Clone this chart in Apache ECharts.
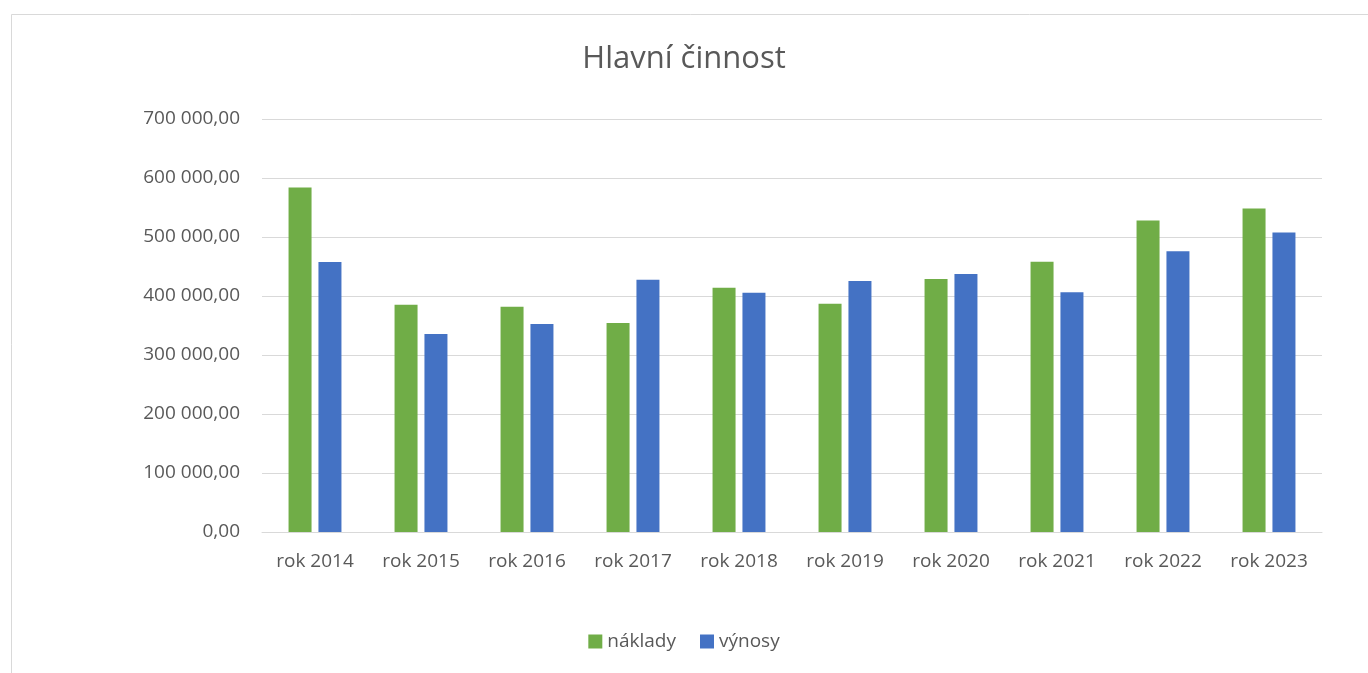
<!DOCTYPE html>
<html><head><meta charset="utf-8">
<script src="https://cdn.jsdelivr.net/npm/echarts@6/dist/echarts.min.js"></script>
<style>html,body{margin:0;padding:0;background:#fff}#c{width:1368px;height:673px}</style>
</head><body><div id="c"></div>
<script>
var categories = ['rok 2014','rok 2015','rok 2016','rok 2017','rok 2018','rok 2019','rok 2020','rok 2021','rok 2022','rok 2023'];
var naklady = [583700, 385200, 381800, 354100, 414100, 386900, 428800, 458200, 527900, 548300];
var vynosy = [457500, 335400, 352400, 427700, 405600, 425500, 437300, 406300, 475700, 507500];
var seriesNames = ['náklady','výnosy'];
var titleText = 'Hlavní činnost';

function fmt(v){
  var s = Math.round(v).toString().replace(/\B(?=(\d{3})+(?!\d))/g,' ');
  return s + ',00';
}
var font = '"Open Sans", "Liberation Sans", sans-serif';
var chart = echarts.init(document.getElementById('c'));
chart.setOption({
  animation:false,
  backgroundColor:'#fff',
  graphic:[{type:'rect',shape:{x:11.5,y:14.5,width:1400,height:700},style:{fill:'none',stroke:'#d9d9d9',lineWidth:1}}],
  title:{text:titleText,left:'center',top:39,textStyle:{fontFamily:font,fontSize:31,fontWeight:'normal',color:'#595959'}},
  legend:{bottom:17,left:'center',itemWidth:14,itemHeight:14,itemGap:24,itemTextGap:5,icon:'rect',
    textStyle:{fontFamily:font,fontSize:19,color:'#595959'},data:seriesNames},
  grid:{left:262,right:46,top:119,bottom:141},
  xAxis:{type:'category',data:categories,axisLine:{lineStyle:{color:'#d9d9d9'}},axisTick:{show:false},
    axisLabel:{fontFamily:font,fontSize:19,color:'#595959',margin:20,interval:0}},
  yAxis:{type:'value',min:0,max:700000,interval:100000,axisLine:{show:false},axisTick:{show:false},
    splitLine:{lineStyle:{color:'#d9d9d9',width:1}},
    axisLabel:{fontFamily:font,fontSize:19,color:'#595959',margin:22,formatter:fmt}},
  series:[
    {name:seriesNames[0],type:'bar',data:naklady,barWidth:23,barGap:'30%',itemStyle:{color:'#70ad47'}},
    {name:seriesNames[1],type:'bar',data:vynosy,barWidth:23,itemStyle:{color:'#4472c4'}}
  ]
});
</script></body></html>
